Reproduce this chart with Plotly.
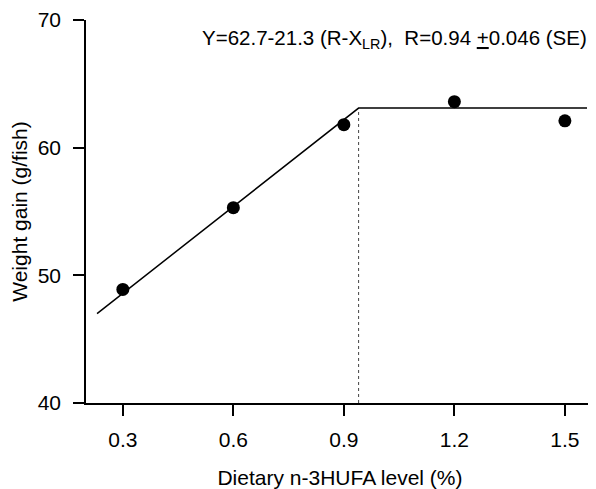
import plotly.graph_objects as go

# Data
hufa_levels = [0.3, 0.6, 0.9, 1.2, 1.5]
weight_gain = [48.9, 55.3, 61.8, 63.6, 62.1]

# Broken-line regression fit
fit_x = [0.23, 0.94, 1.56]
fit_y = [47.0, 63.1, 63.1]
breakpoint_x = 0.94
breakpoint_y = 63.1

x_ticks = [0.3, 0.6, 0.9, 1.2, 1.5]
x_tick_labels = ["0.3", "0.6", "0.9", "1.2", "1.5"]
y_ticks = [40, 50, 60, 70]

FONT = "Liberation Sans, Arial, sans-serif"

fig = go.Figure()

fig.add_trace(go.Scatter(
    x=[breakpoint_x, breakpoint_x], y=[40, breakpoint_y],
    mode="lines", line=dict(color="#444444", width=1, dash="dot"),
    showlegend=False, hoverinfo="skip"))

fig.add_trace(go.Scatter(
    x=fit_x, y=fit_y, mode="lines",
    line=dict(color="black", width=1.5), showlegend=False))

fig.add_trace(go.Scatter(
    x=hufa_levels, y=weight_gain, mode="markers",
    marker=dict(color="black", size=13), showlegend=False))

fig.add_annotation(
    text="Y=62.7-21.3 (R-X<sub>LR</sub>),  R=0.94 <u>+</u>0.046 (SE)",
    xref="paper", yref="paper", x=0.99, y=0.95,
    xanchor="right", yanchor="middle", showarrow=False,
    font=dict(family=FONT, size=20.5, color="black"))

# The page body has an 8px margin, so the figure is sized/offset to compensate
fig.update_layout(
    width=588, height=481,
    margin=dict(l=78, r=2, t=12, b=86),
    paper_bgcolor="white", plot_bgcolor="white",
    font=dict(family=FONT, size=21, color="black"),
    xaxis=dict(
        range=[0.2, 1.579], tickvals=x_ticks, ticktext=x_tick_labels,
        showline=True, linecolor="black", linewidth=1.5,
        ticks="outside", ticklen=11, tickwidth=1.5, tickcolor="black",
        showgrid=False, zeroline=False, automargin=False,
        tickfont=dict(size=21), ticklabelstandoff=6,
        ticklabeloverflow="allow",
        title=dict(text="Dietary n-3HUFA level (%)", standoff=21,
                   font=dict(size=21))),
    yaxis=dict(
        range=[40, 70], tickvals=y_ticks,
        showline=True, linecolor="black", linewidth=1.5,
        ticks="outside", ticklen=11, tickwidth=1.5, tickcolor="black",
        showgrid=False, zeroline=False, automargin=False,
        tickfont=dict(size=21), ticklabelstandoff=8,
        ticklabeloverflow="allow",
        title=dict(text="Weight gain (g/fish)", standoff=10,
                   font=dict(size=21))),
)

fig.write_html("out.html")
